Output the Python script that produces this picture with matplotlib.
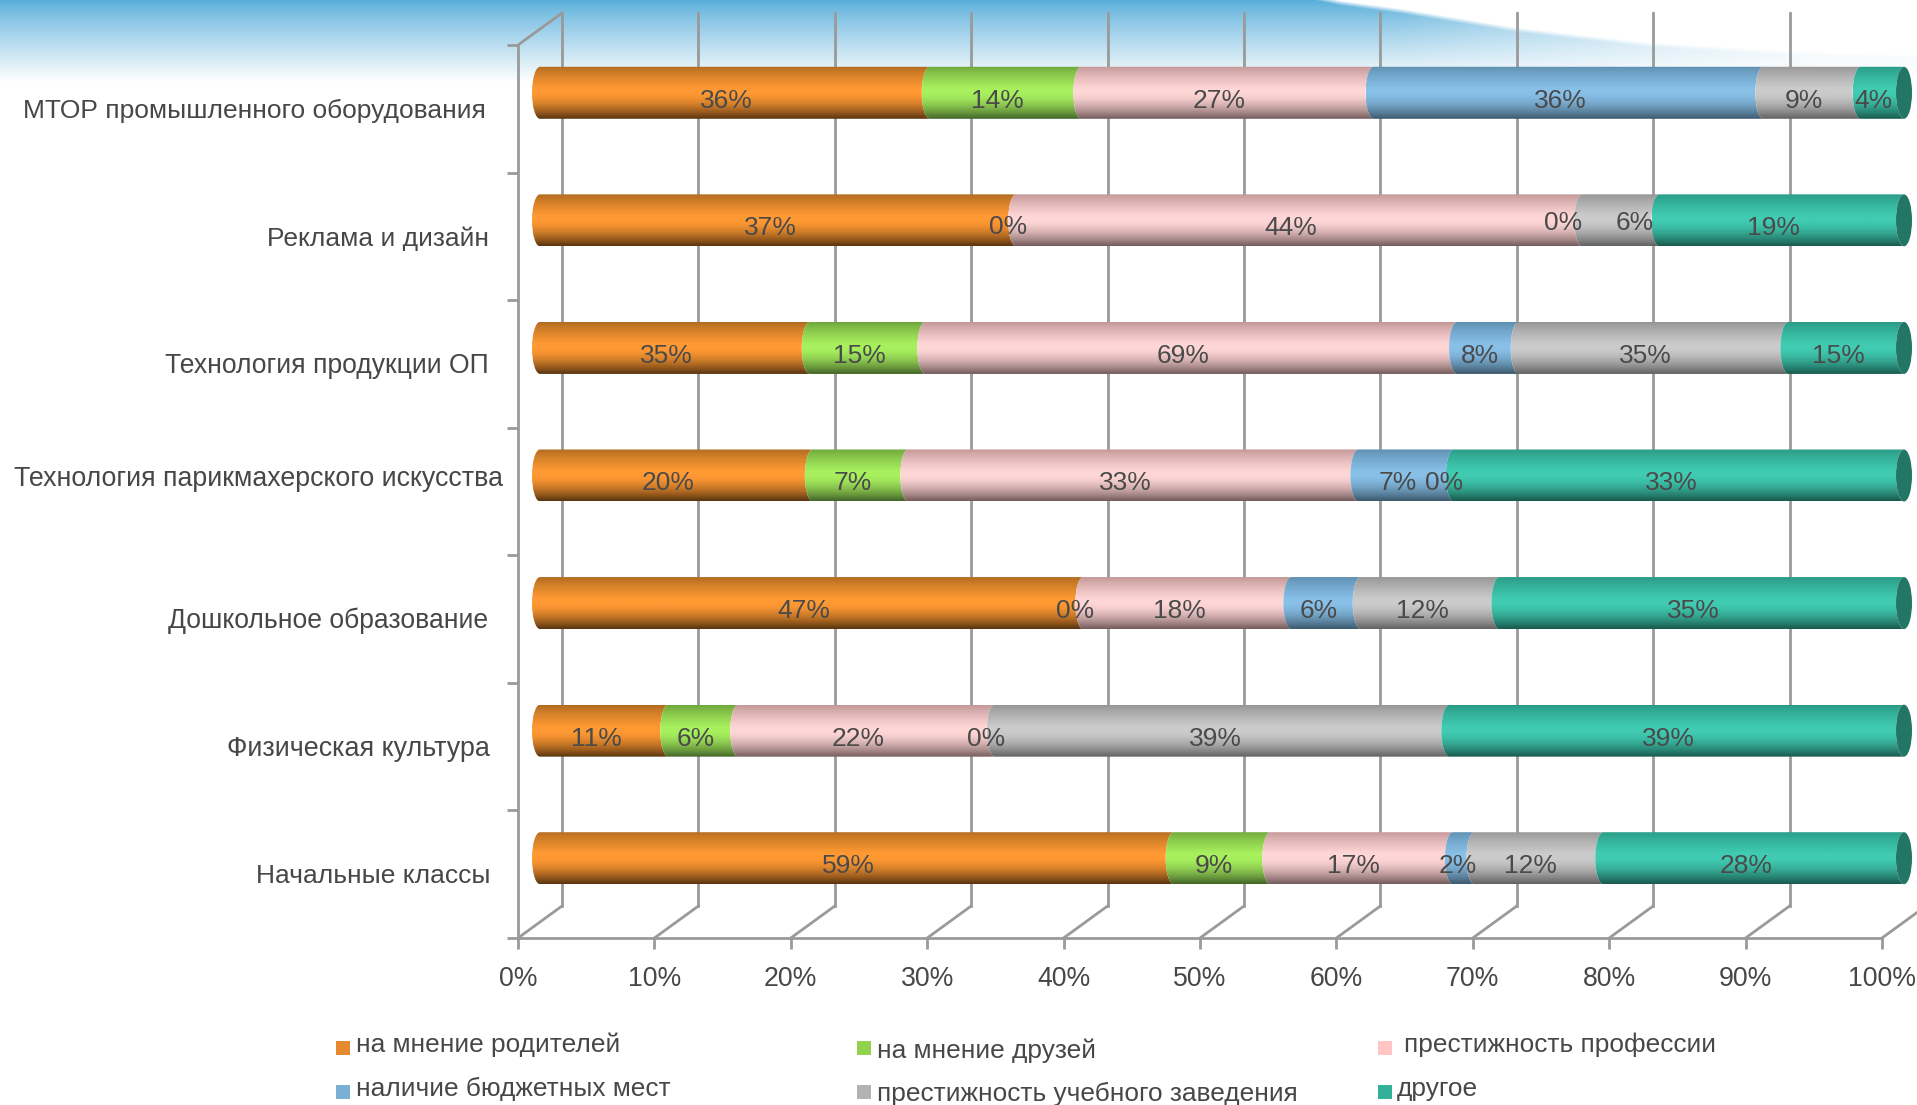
import numpy as np
import matplotlib
matplotlib.use("Agg")
import matplotlib.pyplot as plt
from matplotlib.path import Path
from matplotlib.patches import PathPatch, Rectangle, Ellipse

plt.rcParams['font.family'] = ['Liberation Sans', 'DejaVu Sans']

W, H = 1917, 1105
# data: bottom row first
categories = ["Начальные классы", "Физическая культура", "Дошкольное образование",
              "Технология парикмахерского искусства", "Технология продукции ОП",
              "Реклама и дизайн", "МТОР промышленного оборудования"]
series_names = ["на мнение родителей", "на мнение друзей", "престижность профессии",
                "наличие бюджетных мест", "престижность учебного заведения", "другое"]
parents = [59, 11, 47, 20, 35, 37, 36]
friends = [9, 6, 0, 7, 15, 0, 14]
prestige = [17, 22, 18, 33, 69, 44, 27]
budget = [2, 0, 6, 7, 8, 0, 36]
school = [12, 39, 12, 0, 35, 6, 9]
other = [28, 39, 35, 33, 15, 19, 4]
series = [parents, friends, prestige, budget, school, other]
xticks = list(range(0, 101, 10))

# styling: (top, middle, bottom) of the cylinder shading
shades = [("#B06B20", "#FF9933", "#5A3510"),
          ("#6EA53C", "#A8F05E", "#44662A"),
          ("#C29696", "#FFD6D6", "#755C5C"),
          ("#5F8FB0", "#88C0E8", "#3E5A6E"),
          ("#959595", "#CBCBCB", "#626262"),
          ("#2A9A85", "#40CBB2", "#1A5A4E")]
cap_color = "#237565"
swatches = ["#E48A30", "#92D050", "#FFC4C4", "#7BAFD4", "#B2B2B2", "#33B09A"]
grey = "#9A9A9A"
txt = "#474747"

fig = plt.figure(figsize=(W / 100, H / 100), dpi=100, facecolor="white")

# backdrop and free-standing text share one pixel-space layer
bg = fig.add_axes([0, 0, 1, 1], zorder=0)
bg.set_xlim(0, W); bg.set_ylim(H, 0); bg.axis("off")
yy, xx = np.mgrid[0:90, 0:W]
curve = np.interp(xx[0], [0, 1290, 1340, 1400, 1517, 1650, 1790, 1917], [-50, -10, 0, 8, 27, 42, 50, 54])
t = np.clip(yy / 82.0, 0, 1) ** 0.85
rgb = np.zeros(yy.shape + (4,))
rgb[..., :3] = np.array([0x58, 0xAE, 0xDB]) / 255 * (1 - t[..., None]) + t[..., None]
fade = np.clip((1917 - xx) / 520.0, 0.2, 1)
edge = np.clip((yy - curve[None, :]) / 5.0, 0, 1)
rgb[..., 3] = edge * fade
bg.imshow(rgb, extent=(0, W, 90, 0), aspect="auto", interpolation="nearest", zorder=0)
bg.set_xlim(0, W); bg.set_ylim(H, 0)

# main chart axes: front plane of the pseudo-3D box
ax = fig.add_axes([518 / W, 1 - 938 / H, 1364 / W, 893 / H], zorder=1)
ax.patch.set_alpha(0)
ax.set_xlim(0, 100); ax.set_ylim(0, 7)
ux, uy = 100 / 1364, 7 / 893   # data units per pixel
depth_x, depth_y = 44 * ux, 32 * uy

for s in ("top", "right"):
    ax.spines[s].set_visible(False)
for s in ("left", "bottom"):
    ax.spines[s].set_color(grey); ax.spines[s].set_linewidth(2)
ax.set_xticks(xticks)
ax.set_xticklabels([f"{v}%" for v in xticks], fontsize=19.2, color=txt)
ax.set_yticks(range(8)); ax.set_yticklabels([])
ax.tick_params(axis="both", color=grey, width=2, length=8)
ax.tick_params(axis="x", pad=12.5)

# back wall: verticals and floor diagonals
for v in xticks:
    ax.plot([v + depth_x] * 2, [depth_y, 7 + depth_y], color=grey, lw=2, clip_on=False, zorder=1)
    ax.plot([v, v + depth_x], [0, depth_y], color=grey, lw=2, clip_on=False, zorder=1)
ax.plot([0, depth_x], [7, 7 + depth_y], color=grey, lw=2, clip_on=False, zorder=1)

# stacked cylinders, normalised to 100 %
k = 0.5523
rx, bar_h = 8 * ux, 52 * uy
shift_x, shift_y = depth_x / 2, depth_y / 2
values = np.array(series, dtype=float)
shares = values / values.sum(axis=0) * 100
cum = np.cumsum(shares, axis=0)


def segment(x0, x1, y0, y1):
    """Cylinder side: both ends bow to the left."""
    m = (y0 + y1) / 2
    h = (y1 - y0) / 2
    verts = [(x0, y0),
             (x0 - rx * k, y0), (x0 - rx, m - h * k), (x0 - rx, m),
             (x0 - rx, m + h * k), (x0 - rx * k, y1), (x0, y1),
             (x1, y1),
             (x1 - rx * k, y1), (x1 - rx, m + h * k), (x1 - rx, m),
             (x1 - rx, m - h * k), (x1 - rx * k, y0), (x1, y0),
             (x0, y0)]
    codes = [Path.MOVETO] + [Path.CURVE4] * 6 + [Path.LINETO] + [Path.CURVE4] * 6 + [Path.CLOSEPOLY]
    return Path(verts, codes)


def gradient(c):
    top, mid, bot = [np.array(matplotlib.colors.to_rgb(x)) for x in c]
    n = 64
    p = np.linspace(0, 1, n)[:, None]
    a = np.clip(p / 0.42, 0, 1) ** 0.8
    b = np.clip((p - 0.5) / 0.5, 0, 1) ** 1.6
    col = top * (1 - a) + mid * a
    return (col * (1 - b) + bot * b)[:, None, :]


for r in range(len(categories)):
    yc = r + 0.5 + shift_y
    y0, y1 = yc - bar_h / 2, yc + bar_h / 2
    for s in range(len(series)):
        if values[s, r] == 0:
            continue
        xa = shift_x + (cum[s, r] - shares[s, r])
        xb = shift_x + cum[s, r]
        im = ax.imshow(gradient(shades[s]), extent=(xa - rx, xb, y0, y1), origin="upper",
                       aspect="auto", interpolation="bilinear", zorder=2 + s * 0.01)
        patch = PathPatch(segment(xa, xb, y0, y1), transform=ax.transData, fc="none", ec="none",
                          clip_on=False)
        ax.add_patch(patch)
        im.set_clip_box(fig.bbox)
        im.set_clip_path(patch)
    ax.add_patch(Ellipse((shift_x + 100, yc), 2 * rx, bar_h, fc=cap_color, ec="none", zorder=3, clip_on=False))

ax.set_xlim(0, 100); ax.set_ylim(0, 7)

# value labels: centred in the segment, with a few hand-moved ones (dx, dy in pixels)
moved = {(5, 1): (-8, -1), (5, 3): (-19, -5), (5, 4): (14, -5), (2, 1): (-8, 0), (3, 3): (-8, 0),
         (6, 5): (-9, 0), (1, 3): (-9, 0), (2, 3): (-7, 0), (3, 4): (-10, 0), (1, 4): (-7, 0),
         (0, 3): (-6, 0)}
for r in range(len(categories)):
    yc = r + 0.5 + shift_y
    for s in range(len(series)):
        v = series[s][r]
        mid = shift_x + cum[s, r] - shares[s, r] / 2
        dx, dy = moved.get((r, s), (-8, 0))
        ax.text(mid + dx * ux, yc - (8 + dy) * uy, f"{v}%", ha="center", va="center",
                fontsize=19, color="#4A4A4A", zorder=5, clip_on=False)

# category labels (irregularly placed in the reference)
cat_x = [490, 490, 488, 503, 489, 489, 486]
cat_y = [876, 749, 621, 479, 366, 239, 111]
cat_fs = [19, 19.4, 19.1, 19.3, 19.1, 19, 19]
for name, x, y, fs in zip(categories, cat_x, cat_y, cat_fs):
    bg.text(x, y, name, ha="right", va="center", fontsize=fs, color=txt)

# legend (hand-placed in the reference)
sw_x = [336, 857, 1378, 336, 857, 1378]
sw_y = [1041, 1041, 1041, 1085, 1085, 1085]
tx_x = [356, 877, 1404, 356, 877, 1397]
tx_y = [1045, 1051, 1045, 1089, 1094, 1089]
for i, name in enumerate(series_names):
    bg.add_patch(Rectangle((sw_x[i], sw_y[i]), 14, 14, fc=swatches[i], ec="none"))
    bg.text(tx_x[i], tx_y[i], name, ha="left", va="center", fontsize=18.9, color=txt)

fig.savefig("out.png", dpi=100)
